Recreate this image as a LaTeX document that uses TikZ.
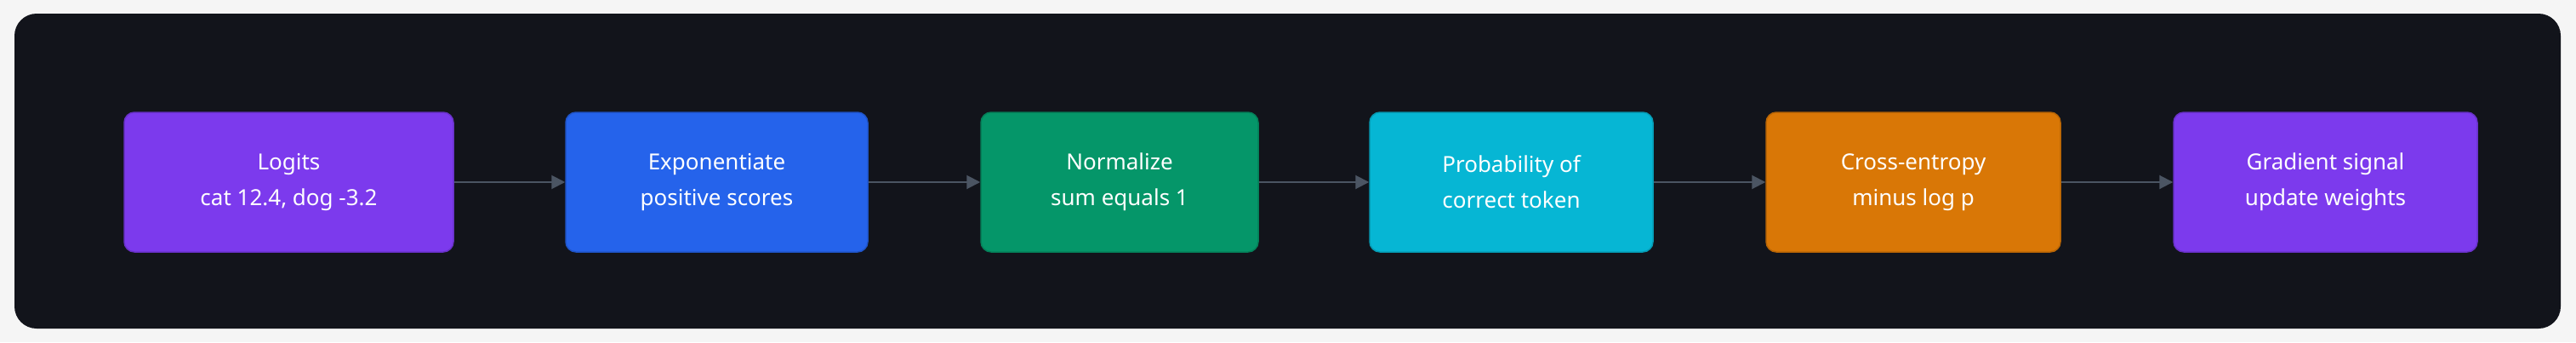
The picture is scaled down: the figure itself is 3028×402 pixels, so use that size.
\documentclass[tikz,border=0pt]{standalone}
\usepackage{fontspec}
\setmainfont{Noto Sans}
\usetikzlibrary{arrows.meta}
\definecolor{pur}{HTML}{7C3AED}
\definecolor{blu}{HTML}{2563EB}
\definecolor{grn}{HTML}{059669}
\definecolor{cyn}{HTML}{06B6D4}
\definecolor{org}{HTML}{D97706}
\definecolor{panel}{HTML}{12141B}
\definecolor{arr}{HTML}{4B5563}
\begin{document}
\begin{tikzpicture}[x=1pt,y=-1pt,
 box/.style={draw=#1!85!black,line width=1.5pt,fill=#1,rounded corners=12pt,text=white,align=center,font=\fontsize{26}{42}\selectfont,inner sep=0pt},
 con/.style={draw=arr,line width=2pt,-{Triangle[length=16pt,width=16pt]}}]
\useasboundingbox[fill=white!96!black] (0,0) rectangle (3028,402);
\fill[panel,rounded corners=26pt] (17,16) rectangle (3010,386);
\newcommand\bx[5]{\node[box=#2,minimum width={#4-#3},minimum height=164pt] (#1) at ({(#3+#4)/2},214) {#5};}
\bx{a}{pur}{146}{533}{Logits\\cat 12.4, dog -3.2}
\bx{b}{blu}{665}{1020}{Exponentiate\\positive scores}
\bx{c}{grn}{1153}{1479}{Normalize\\sum equals 1}
\bx{d}{cyn}{1610}{1943}{Probability of\\correct token}
\bx{e}{org}{2076}{2422}{Cross-entropy\\minus log p}
\bx{f}{pur}{2555}{2912}{Gradient signal\\update weights}
\draw[con] (a) -- (b);
\draw[con] (b) -- (c);
\draw[con] (c) -- (d);
\draw[con] (d) -- (e);
\draw[con] (e) -- (f);
\end{tikzpicture}
\end{document}
